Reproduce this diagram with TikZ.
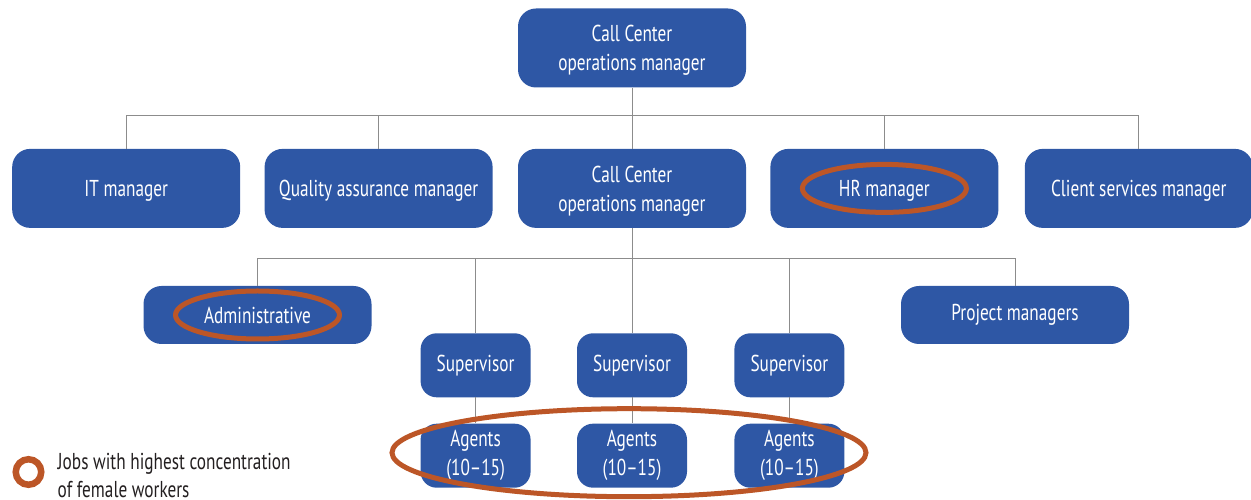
\documentclass[tikz,border=0pt]{standalone}
\usepackage{fontspec}
\setmainfont{PT Sans}[FakeStretch=0.75]
\usepackage{tikz}
\usetikzlibrary{positioning,calc}
\definecolor{boxblue}{RGB}{46,87,165}
\definecolor{ringorange}{RGB}{188,86,39}
\definecolor{linegray}{RGB}{140,140,140}
\definecolor{keytext}{RGB}{35,31,32}

\begin{document}
\begin{tikzpicture}[
x=1pt, y=1pt,
manager/.style={rectangle, rounded corners=18pt, fill=boxblue, text=white, minimum width=228pt, minimum height=79pt, align=center, inner sep=0pt, font=\fontsize{23}{29}\selectfont},
oneline/.style={execute at begin node={\rule{0pt}{22pt}}},
twoline/.style={text depth=0pt},
unit/.style={rectangle, rounded corners=16pt, fill=boxblue, text=white, minimum width=110pt, minimum height=64pt, align=center, inner sep=0pt, font=\fontsize{23}{29}\selectfont},
ring/.style={draw=ringorange, line width=5pt},
link/.style={draw=linegray, line width=1pt}
]
\useasboundingbox (0,0) rectangle (1251,500);

\node[manager, twoline] (ccTop) at (632,452) {Call Center\\operations manager};
\node[manager, twoline] (ccMid) [below=61pt of ccTop] {Call Center\\operations manager};
\node[manager, oneline] (qa) [left=25pt of ccMid] {Quality assurance manager};
\node[manager, oneline] (it) [left=24pt of qa] {IT manager};
\node[manager, oneline] (hr) [right=24pt of ccMid] {HR manager};
\node[manager, oneline] (client) [right=26pt of hr] {Client services manager};

\node[manager, minimum height=58pt] (admin) at (257.5,185) {Administrative};
\node[manager, minimum height=58pt] (proj) at (1015,185) {Project managers};

\node[unit] (sup2) [below=105pt of ccMid] {Supervisor};
\node[unit] (sup1) [left=46pt of sup2] {Supervisor};
\node[unit] (sup3) [right=47pt of sup2] {Supervisor};
\node[unit] (ag1) [below=26pt of sup1] {Agents\\(10--15)};
\node[unit] (ag2) [below=26pt of sup2] {Agents\\(10--15)};
\node[unit] (ag3) [below=26pt of sup3] {Agents\\(10--15)};

\coordinate (busTop) at ($(ccTop.south)+(0,-28)$);
\coordinate (busMid) at ($(ccMid.south)+(0,-30)$);

%Connections top
\draw[link] (ccTop.south) -- (ccMid.north);
\draw[link] (it.north |- busTop) -- (client.north |- busTop);
\foreach \n in {it,qa,hr,client}
  \draw[link] (\n.north) -- (\n.north |- busTop);

%Connections middle
\draw[link] (ccMid.south) -- (sup2.north);
\draw[link] (admin.north |- busMid) -- (proj.north |- busMid);
\foreach \n in {admin,sup1,sup3,proj}
  \draw[link] (\n.north) -- (\n.north |- busMid);
\foreach \i in {1,2,3}
  \draw[link] (sup\i.south) -- (ag\i.north);

%Rings
\draw[ring] (hr.center) ellipse [x radius=82pt, y radius=24pt];
\draw[ring] (admin.center) ellipse [x radius=82pt, y radius=24pt];
\draw[ring] ($(ag2.center)+(-3,3)$) ellipse [x radius=237pt, y radius=44pt];

%Key
\node[circle, ring, line width=6.5pt, minimum size=25.5pt, inner sep=0pt] (key) at (28.5,28) {};
\node[align=left, inner sep=0pt, text=keytext, font=\fontsize{23}{28}\selectfont] (keyText) [right=13pt of key, yshift=-3pt] {Jobs with highest concentration\\of female workers};
\end{tikzpicture}
\end{document}
